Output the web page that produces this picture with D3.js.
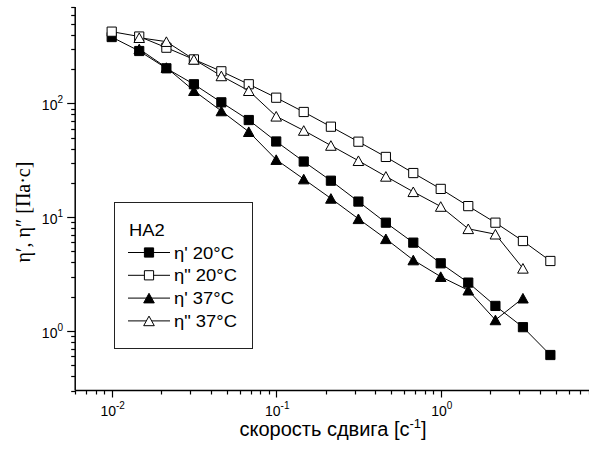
<!DOCTYPE html>
<meta charset="utf-8">
<head>
	<title>HA2 viscosity</title>
	<script src="https://cdn.jsdelivr.net/npm/d3@7"></script>
	<style>
		body { margin: 0; background: #fff; }
		text { font-family: Arial, "Liberation Sans", sans-serif; fill: #000; }
	</style>
</head>
<body>
	<div id="chart"></div>
	<script>
		// shear rate values (x), one per column
		var shearRate = [0.01, 0.0147, 0.0215, 0.0316, 0.0464, 0.0681, 0.1, 0.147, 0.215, 0.316, 0.464, 0.681, 1, 1.47, 2.15, 3.16, 4.64];
		// series, null = no point
		var etaP20 = [382, 288, 203, 147, 102, 71.3, 46.2, 30.8, 20.9, 13.7, 8.94, 5.97, 3.93, 2.66, 1.66, 1.08, 0.615];
		var etaPP20 = [426, 386, 308, 243, 191, 147, 112, 83.9, 62.3, 46, 33.8, 24.4, 17.7, 12.5, 8.94, 6.17, 4.12];
		var etaP37 = [null, 300, 206, 129, 85.6, 56.3, 32, 21.6, 14.6, 9.67, 6.45, 4.2, 3.0, 2.28, 1.25, 1.94, null];
		var etaPP37 = [null, 377, 348, 243, 174, 129, 76.9, 57.7, 42.6, 31.3, 22.8, 16.7, 12.4, 7.9, 7.08, 3.55, null];

		var seriesNames = ["η' 20°C", "η\" 20°C", "η' 37°C", "η\" 37°C"];
		var xTickExp = ["-2", "-1", "0"];
		var yTickExp = ["0", "1", "2"];

		var w = 589, h = 449;
		var svg = d3.select("#chart").append("svg").attr("width", w).attr("height", h);

		var x = d3.scaleLog().domain([0.006, 8]).range([75.2, 589.3]);
		var y = d3.scaleLog().domain([0.3, 700]).range([390.5, 7.1]);

		//axes with minor ticks
		var xTicks = [];
		[0.001, 0.01, 0.1, 1].forEach(function (d) {
			for (var k = 1; k < 10; k++) {
				var v = +(d * k).toPrecision(3);
				if (v >= 0.006 && v <= 8) xTicks.push(v);
			}
		});
		var yTicks = [];
		[0.1, 1, 10, 100].forEach(function (d) {
			for (var k = 1; k < 10; k++) {
				var v = +(d * k).toPrecision(3);
				if (v >= 0.3 && v <= 700) yTicks.push(v);
			}
		});
		function isMajor(v) { return Math.abs(Math.log10(v) - Math.round(Math.log10(v))) < 1e-6; }

		var ax = svg.append("g").attr("class", "axes").style("stroke", "#000");
		ax.append("line").attr("x1", x(0.006)).attr("x2", x(8)).attr("y1", y(0.3)).attr("y2", y(0.3)).style("stroke-width", 1.5);
		ax.append("line").attr("x1", x(0.006)).attr("x2", x(0.006)).attr("y1", y(0.3)).attr("y2", y(700)).style("stroke-width", 1.5);
		ax.selectAll(".xt").data(xTicks).enter().append("line")
			.attr("x1", function (d) { return Math.round(x(d)) + 0.5; })
			.attr("x2", function (d) { return Math.round(x(d)) + 0.5; })
			.attr("y1", y(0.3))
			.attr("y2", function (d) { return y(0.3) + (isMajor(d) ? 7 : 4); })
			.style("stroke-width", 1.2);
		ax.selectAll(".yt").data(yTicks).enter().append("line")
			.attr("y1", function (d) { return Math.round(y(d)) + 0.5; })
			.attr("y2", function (d) { return Math.round(y(d)) + 0.5; })
			.attr("x1", x(0.006))
			.attr("x2", function (d) { return x(0.006) - (isMajor(d) ? 8 : 4); })
			.style("stroke-width", 1.2);

		// tick labels 10^n
		xTickExp.forEach(function (e) {
			var t = svg.append("text").attr("x", x(Math.pow(10, +e)) + 1).attr("y", 416)
				.attr("text-anchor", "middle").style("font-size", "14px");
			t.append("tspan").text("10");
			t.append("tspan").attr("dy", -7).style("font-size", "10px").text(e);
		});
		yTickExp.forEach(function (e) {
			var t = svg.append("text").attr("x", 63).attr("y", y(Math.pow(10, +e)) + 7)
				.attr("text-anchor", "end").style("font-size", "14px");
			t.append("tspan").text("10");
			t.append("tspan").attr("dy", -7).style("font-size", "10px").text(e);
		});

		// axis titles
		var xl = svg.append("text").attr("x", 333).attr("y", 436).attr("text-anchor", "middle").style("font-size", "20px");
		xl.append("tspan").text("скорость сдвига [с");
		xl.append("tspan").attr("dy", -8).style("font-size", "13px").text("-1");
		xl.append("tspan").attr("dy", 8).text("]");

		svg.append("text").attr("transform", "translate(30,212) rotate(-90)")
			.attr("text-anchor", "middle")
			.style("font-family", "'Liberation Serif', 'DejaVu Serif', serif")
			.style("font-size", "20px")
			.text("η′, η″ [Па·с]");

		// series
		var series = [
			{ name: seriesNames[0], vals: etaP20, shape: "square", fill: "#000" },
			{ name: seriesNames[1], vals: etaPP20, shape: "square", fill: "#fff" },
			{ name: seriesNames[2], vals: etaP37, shape: "triangle", fill: "#000" },
			{ name: seriesNames[3], vals: etaPP37, shape: "triangle", fill: "#fff" }
		];
		function pts(s) {
			return shearRate.map(function (r, i) { return [r, s.vals[i]]; }).filter(function (p) { return p[1] != null; });
		}
		function marker(shape) {
			if (shape == "square") return "M-4.6,-4.6H4.6V4.6H-4.6Z";
			return "M0,-4.8L5.3,4.8H-5.3Z";
		}
		var line = d3.line().x(function (d) { return x(d[0]); }).y(function (d) { return y(d[1]); });

		var plot = svg.append("g");
		series.forEach(function (s) {
			plot.append("path").datum(pts(s)).attr("d", line)
				.style("fill", "none").style("stroke", "#000").style("stroke-width", 1);
		});
		series.forEach(function (s) {
			plot.append("g").selectAll("path").data(pts(s)).enter().append("path")
				.attr("transform", function (d) { return "translate(" + x(d[0]) + "," + y(d[1]) + ")"; })
				.attr("d", marker(s.shape))
				.style("fill", s.fill).style("stroke", "#000").style("stroke-width", 1);
		});

		// legend
		var lg = svg.append("g");
		lg.append("rect").attr("x", 114.5).attr("y", 202.5).attr("width", 138).attr("height", 146)
			.style("fill", "none").style("stroke", "#222").style("stroke-width", 1);
		lg.append("text").attr("transform", "translate(129,236) scale(1.15,1)").style("font-size", "16px").text("HA2");
		series.forEach(function (s, i) {
			var cy = 252.5 + i * 22.8;
			lg.append("line").attr("x1", 128).attr("x2", 170).attr("y1", cy).attr("y2", cy)
				.style("stroke", "#000").style("stroke-width", 1);
			lg.append("path").attr("transform", "translate(149," + cy + ")").attr("d", marker(s.shape))
				.style("fill", s.fill).style("stroke", "#000").style("stroke-width", 1);
			lg.append("text").attr("transform", "translate(174," + (cy + 6) + ") scale(1.15,1)")
				.style("font-size", "16px").text(s.name);
		});
	</script>
</body>
